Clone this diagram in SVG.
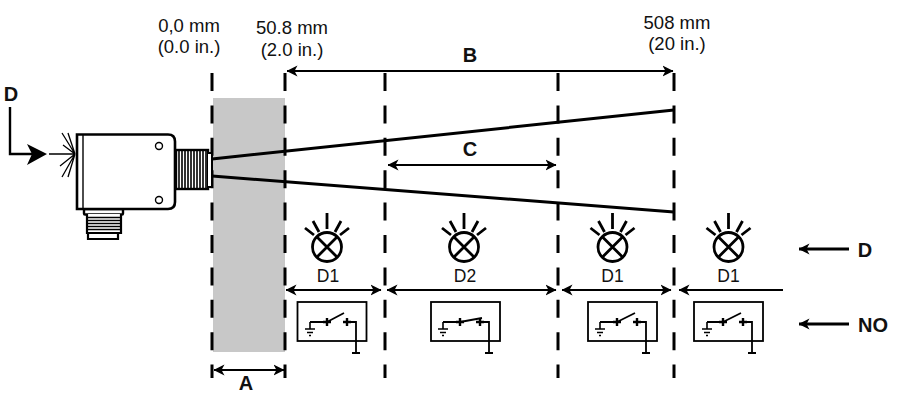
<svg xmlns="http://www.w3.org/2000/svg" width="906" height="403" viewBox="0 0 906 403">
<defs>
<style>
text{font-family:"Liberation Sans",Arial,sans-serif;fill:#111;text-anchor:middle}
.t{font-size:18.5px}
.u{font-size:17.5px}
.b{font-size:20px;font-weight:bold}
.d{stroke:#000;stroke-width:3;stroke-dasharray:18 14.4;fill:none}
.l{stroke:#000;stroke-width:1.800;fill:none}
.k{stroke:#000;fill:none}
.s{stroke:#000;stroke-width:1.800;fill:none}
.p{stroke:#000;stroke-width:2.400;fill:none}
.h{fill:#000}
</style>
<marker id="a" viewBox="0 0 11 12" refX="10.500" refY="6" markerWidth="11" markerHeight="12" markerUnits="userSpaceOnUse" orient="auto-start-reverse"><path d="M11 6L0 0.500L3 6L0 11.500Z" fill="#000"/></marker>
<g id="lamp"><circle cx="0" cy="0" r="14.500" fill="none" stroke="#000" stroke-width="2.800"/><path d="M-10-10L10 10M-10 10L10-10M0-18V-34M-8-15L-14-26M8-15L14-26M-13-12L-22-19M13-12L22-19" fill="none" stroke="#000" stroke-width="2.800"/></g>
<g id="gnd"><path d="M0 0V7M-5 7H5M-3 10.500H3M-1 13.500H1" fill="none" stroke="#000" stroke-width="1.600"/></g>
</defs>

<rect id="zone-a" x="213" y="98" width="72" height="254" fill="#c8c8c8"/>

<g id="connectors">
<path class="d" d="M212 73V378M285 73V378M385 73V378M558 73V378M674 73V378"/>
<path class="l" d="M287 71H673" style="stroke-width:2" marker-start="url(#a)" marker-end="url(#a)"/>
<path class="l" d="M388 165H556" style="stroke-width:2" marker-start="url(#a)" marker-end="url(#a)"/>
<path class="l" d="M214 370H284" style="stroke-width:2" marker-start="url(#a)" marker-end="url(#a)"/>
<path class="l" d="M286 290H381" marker-start="url(#a)" marker-end="url(#a)"/>
<path class="l" d="M387 290H556" marker-start="url(#a)" marker-end="url(#a)"/>
<path class="l" d="M562 290H671" marker-start="url(#a)" marker-end="url(#a)"/>
<path class="l" d="M679 290H783" marker-start="url(#a)"/>
<path class="k" stroke-width="3" d="M212 159L674 110M212 176L674 212"/>
<path class="l" style="stroke-width:2.800" d="M799 249H849" marker-start="url(#a)"/>
<path class="l" style="stroke-width:2.800" d="M799 324H849" marker-start="url(#a)"/>
</g>

<g id="sensor">
<rect x="84" y="209" width="39" height="5.500" rx="1" fill="#fff" stroke="#000" stroke-width="2.400"/>
<path d="M87 214V233H121V214" fill="#fff" stroke="#000" stroke-width="2.200"/>
<path d="M87 217.500H121M87 220.500H121M87 223.500H121M87 226.500H121M87 229.500H121" stroke="#000" stroke-width="1.300" fill="none"/>
<path d="M88 233V239H118V233Z" fill="#fff" stroke="#000" stroke-width="2.200"/>
<rect x="176" y="150" width="32" height="39" fill="#fff" stroke="#000" stroke-width="2.400"/>
<path d="M179 151V188M182 151V188M185 151V188M188 151V188M191 151V188M194 151V188M197 151V188M200 151V188M203 151V188M206 151V188" stroke="#000" stroke-width="1.600" fill="none"/>
<path d="M208 153H212V187H208" fill="#fff" stroke="#000" stroke-width="2"/>
<path d="M77 134.500H168Q175 134.500 175 141.500V202Q175 209 168 209H77Z" fill="#fff" stroke="#000" stroke-width="2.600"/>
<path d="M83 135V209" stroke="#000" stroke-width="1.400" fill="none"/>
<circle cx="159" cy="146" r="3.500" fill="#fff" stroke="#000" stroke-width="1.400"/>
<circle cx="159" cy="200" r="3.500" fill="#fff" stroke="#000" stroke-width="1.400"/>
</g>

<g id="light-input">
<path class="k" stroke-width="2.400" d="M10 107V154H32"/>
<path class="h" d="M47 154L27 144L32 154L27 165Z"/>
<path class="k" stroke-width="1.300" d="M49 154H75M62 133L75 154M68 133L75 154M63 145L75 154M60 166L75 154M62 177L75 154M68 177L75 154"/>
<text class="b" x="11" y="101">D</text>
</g>

<g id="labels">
<text class="t" x="189" y="32">0,0 mm</text>
<text class="t" x="189" y="53">(0.0 in.)</text>
<text class="t" x="292" y="34">50.8 mm</text>
<text class="t" x="292" y="56">(2.0 in.)</text>
<text class="t" x="677" y="29">508 mm</text>
<text class="t" x="677" y="50">(20 in.)</text>
<text class="b" x="470" y="62">B</text>
<text class="b" x="470" y="156">C</text>
<text class="b" x="246" y="390">A</text>
<text class="b" x="865" y="257">D</text>
<text class="b" x="873" y="332">NO</text>
</g>

<g id="state-1">
<use href="#lamp" x="327" y="247"/>
<text class="u" x="328" y="282">D1</text>
<rect class="s" x="297.500" y="302" width="69" height="39"/>
<use href="#gnd" x="310" y="322"/>
<path class="s" d="M310 322H327M327 322L344 313M347 322H356V353M352 353H360"/>
<path class="p" d="M323 322H331M327 318V326M343 322H351M347 318V326"/>
</g>
<g id="state-2">
<use href="#lamp" x="464" y="247"/>
<text class="u" x="465" y="282">D2</text>
<rect class="s" x="431" y="302" width="69" height="39"/>
<use href="#gnd" x="443" y="322"/>
<path class="s" d="M443 322H460M460 322L482 318M480 322H489V353M485 353H493"/>
<path class="p" d="M456 322H464M460 318V326M476 322H484M480 318V326"/>
</g>
<g id="state-3">
<use href="#lamp" x="612.500" y="247"/>
<text class="u" x="612.500" y="282">D1</text>
<rect class="s" x="588" y="302" width="69" height="39"/>
<use href="#gnd" x="600" y="322"/>
<path class="s" d="M600 322H617M617 322L635 313M637 322H646V353M642 353H650"/>
<path class="p" d="M613 322H621M617 318V326M633 322H641M637 318V326"/>
</g>
<g id="state-4">
<use href="#lamp" x="728.500" y="247"/>
<text class="u" x="728.500" y="282">D1</text>
<rect class="s" x="694" y="302" width="69" height="39"/>
<use href="#gnd" x="707" y="322"/>
<path class="s" d="M707 322H723M723 322L741 313M743 322H752V353M748 353H756"/>
<path class="p" d="M719 322H727M723 318V326M739 322H747M743 318V326"/>
</g>
</svg>
